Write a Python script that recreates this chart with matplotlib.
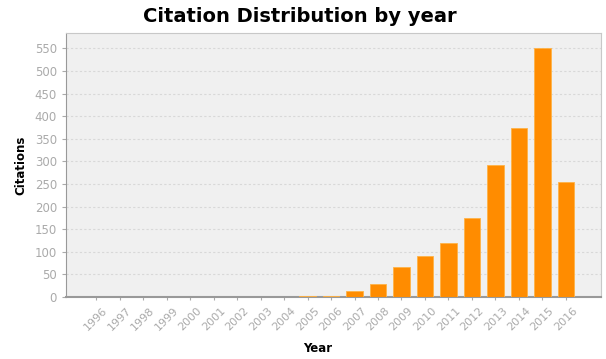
import matplotlib
matplotlib.use("Agg")
import matplotlib.pyplot as plt
import numpy as np

# Citation counts per year
years = ['1996', '1997', '1998', '1999', '2000', '2001', '2002', '2003', '2004',
         '2005', '2006', '2007', '2008', '2009', '2010', '2011', '2012', '2013',
         '2014', '2015', '2016']
citations = [0, 0, 0, 0, 0, 0, 0, 0, 0, 3, 3, 12, 28, 66, 90, 120, 174, 292, 373, 550, 255]
yticks = list(range(0, 551, 50))

fig = plt.figure(figsize=(6.06, 3.59), dpi=100)
ax = fig.add_axes([0.109, 0.173, 0.883, 0.735])
ax.set_facecolor('#f0f0f0')

x = np.arange(len(years))
ax.bar(x, citations, width=0.7, color='#ff8c00', edgecolor='#ffb347', linewidth=0.6, zorder=3)

ax.set_xlim(-1.28, len(years) + 0.5)
ax.set_ylim(0, 584)
ax.set_yticks(yticks)
ax.set_xticks(x)
ax.set_xticklabels(years, rotation=45, ha='center', fontsize=8)
ax.tick_params(axis='both', colors='#aaaaaa', length=3)
ax.tick_params(axis='y', labelsize=8.5)
ax.tick_params(axis='x', length=2, pad=4)
ax.grid(axis='y', color='#d8d8d8', linestyle=(0, (2, 2)), linewidth=0.8, zorder=0)

for side, sp in ax.spines.items():
    sp.set_color('#c8c8c8')
ax.spines['bottom'].set_color('#999999')
ax.spines['bottom'].set_linewidth(1.5)
ax.spines['left'].set_color('#999999')

ax.set_ylabel('Citations', fontsize=8.5, fontweight='bold', labelpad=5)
ax.set_xlabel('Year', fontsize=8.5, fontweight='bold')
ax.xaxis.set_label_coords(0.47, -0.17)
fig.suptitle('Citation Distribution by year', fontsize=14, fontweight='bold', x=0.495, y=0.98)

fig.savefig('out.png', dpi=100)
